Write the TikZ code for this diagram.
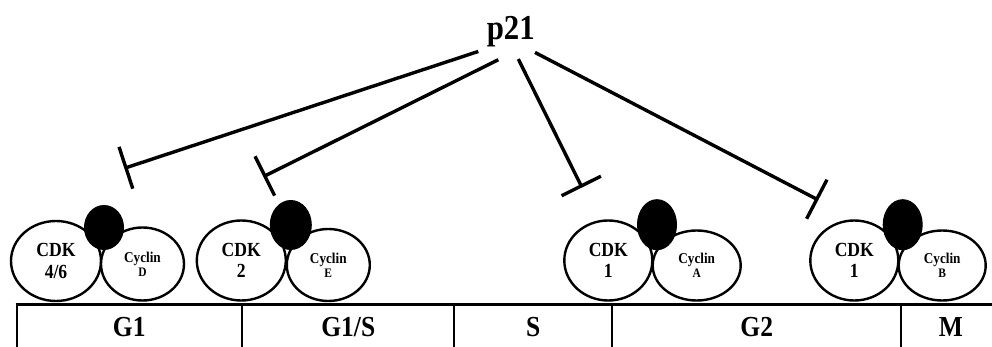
\documentclass[tikz,border=0pt]{standalone}
\usepackage{fontspec}
\setmainfont{Liberation Serif}
\newfontfamily\condserif{Liberation Serif}[FakeStretch=0.88]
\usetikzlibrary{shapes.geometric,arrows.meta,calc}
\begin{document}
\begin{tikzpicture}[x=1pt,y=-1pt,
  cdk/.style={ellipse,draw,fill=white,line width=2.4pt,inner sep=0pt,align=center,
    font=\condserif\fontsize{20}{21.7}\selectfont\bfseries},
  cyc/.style={ellipse,draw,fill=white,line width=2.4pt,inner sep=0pt,align=center,
    font=\condserif\fontsize{15}{14.3}\selectfont\bfseries},
  blob/.style={ellipse,draw,fill=black,line width=1pt,inner sep=0pt},
  inh/.style={line width=3.4pt,-{Bar[width=44pt]}},
  phase/.style={anchor=base,font=\condserif\fontsize{29}{29}\selectfont\bfseries},
  divider/.style={line width=2.2pt},
]
\useasboundingbox (0,0) rectangle (992,347);

% p21
\node[anchor=base,inner sep=0pt,font=\condserif\fontsize{35}{35}\selectfont\bfseries] (p21) at (510.8,39.5) {p21};

% complexes
\node[cdk,minimum width=90pt,minimum height=80pt] (cdk46) at (56,261) {CDK\\4/6};
\node[cyc,minimum width=83pt,minimum height=73pt] (cycD) at (142.5,264) {Cyclin\\{\fontsize{13}{13}\selectfont D}};
\node[blob,minimum width=39pt,minimum height=44pt] (b1) at (104,227.5) {};

\node[cdk,minimum width=89pt,minimum height=80pt] (cdk2) at (241.3,260.5) {CDK\\2};
\node[cyc,minimum width=83pt,minimum height=72pt] (cycE) at (328.3,265) {Cyclin\\{\fontsize{13}{13}\selectfont E}};
\node[blob,minimum width=41pt,minimum height=49pt] (b2) at (290.8,225) {};

\node[cdk,minimum width=88pt,minimum height=80pt] (cdk1a) at (608.3,260.5) {CDK\\1};
\node[cyc,minimum width=88pt,minimum height=70pt] (cycA) at (696.7,265.5) {Cyclin\\{\fontsize{13}{13}\selectfont A}};
\node[blob,minimum width=39pt,minimum height=50pt] (b3) at (657,224.7) {};

\node[cdk,minimum width=88pt,minimum height=80pt] (cdk1b) at (854.3,260.5) {CDK\\1};
\node[cyc,minimum width=87pt,minimum height=70pt] (cycB) at (942.2,265.5) {Cyclin\\{\fontsize{13}{13}\selectfont B}};
\node[blob,minimum width=39pt,minimum height=50pt] (b4) at (902.7,224.7) {};

% inhibition targets
\coordinate (t1) at (124.3,168.3);
\coordinate (t2) at (263.3,176.7);
\coordinate (t3) at (582,187.5);
\coordinate (t4) at (818.3,200);

\draw[inh] ([shift={(-32.5,4.3)}]p21.south) -- (t1);
\draw[inh] ([shift={(-12.5,12.6)}]p21.south) -- (t2);
\draw[inh] ([shift={(7.5,11.9)}]p21.south) -- (t3);
\draw[inh] ([shift={(24.2,5.3)}]p21.south) -- (t4);

% cell-cycle bar
\draw[line width=3pt] (15.6,304.3) -- (992,304.3);
\foreach \x in {16.7,241.7,454,611.7,900.7}
  \draw[divider] (\x,304.3) -- (\x,347);

\node[phase] (g1)  at (129.2,336.7) {G1};
\node[phase] (g1s) at (348.3,336.7) {G1/S};
\node[phase] (s)   at (533.3,336.7) {S};
\node[phase] (g2)  at (756.7,336.7) {G2};
\node[phase] (m)   at (950.8,336.7) {M};
\end{tikzpicture}
\end{document}
